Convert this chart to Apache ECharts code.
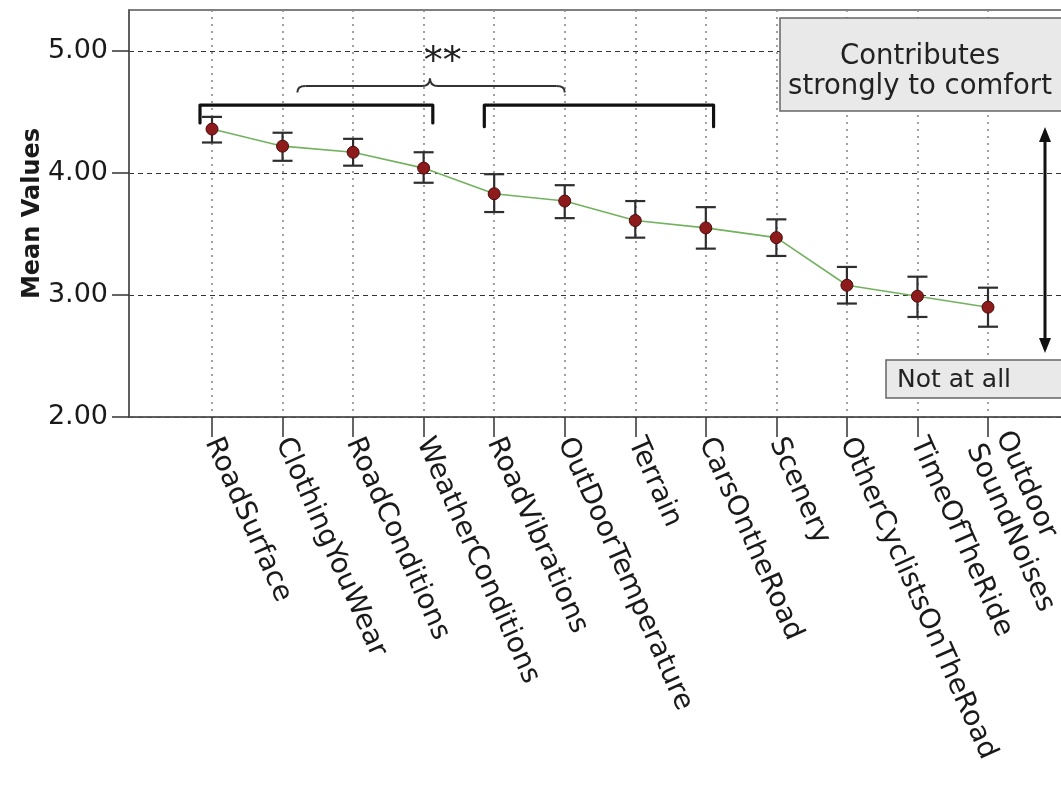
<!DOCTYPE html>
<html>
<head>
<meta charset="utf-8">
<script src="https://cdn.jsdelivr.net/npm/echarts@6/dist/echarts.min.js"></script>
<style>
  html, body { margin: 0; padding: 0; background: #fff; }
  #chart { width: 1061px; height: 785px; }
</style>
</head>
<body>
<div id="chart"></div>
<script>
// Comfort factors, ordered by mean rating
const categories = [
  'RoadSurface', 'ClothingYouWear', 'RoadConditions', 'WeatherConditions',
  'RoadVibrations', 'OutDoorTemperature', 'Terrain', 'CarsOntheRoad',
  'Scenery', 'OtherCyclistsOnTheRoad', 'TimeOfTheRide', 'Outdoor\nSoundNoises'
];
const means = [4.36, 4.22, 4.17, 4.04, 3.83, 3.77, 3.61, 3.55, 3.47, 3.08, 2.99, 2.90];
const lower = [4.25, 4.10, 4.06, 3.92, 3.68, 3.63, 3.47, 3.38, 3.32, 2.93, 2.82, 2.74];
const upper = [4.46, 4.33, 4.28, 4.17, 3.99, 3.90, 3.77, 3.72, 3.62, 3.23, 3.15, 3.06];
const yTicks = [2, 3, 4, 5];

// Groups compared by the significance brace
const groupA = [0, 3];
const groupB = [4, 7];

const FONT = 'DejaVu Sans';
const Y_MIN = 2, Y_MAX = 5.336;

const chart = echarts.init(document.getElementById('chart'), null, { renderer: 'canvas' });

chart.setOption({
  backgroundColor: '#ffffff',
  animation: false,
  grid: [
    // outer frame with horizontal reference lines
    { left: 129, right: -10, top: 10, bottom: 368, outerBoundsMode: 'none', containLabel: false,
      show: true, borderColor: '#555', borderWidth: 1.5, backgroundColor: 'transparent' },
    // plotting area aligned to the category positions
    { left: 212, right: 73, top: 10, bottom: 368, outerBoundsMode: 'none', containLabel: false }
  ],
  xAxis: [
    {
      gridIndex: 0, type: 'value', min: 0, max: 1,
      axisLine: { show: true, lineStyle: { color: '#555', width: 1.5 } },
      axisTick: { show: false }, axisLabel: { show: false }, splitLine: { show: false }
    },
    {
      gridIndex: 1, type: 'category', data: categories, boundaryGap: false,
      axisLine: { show: false },
      axisTick: { show: true, length: 20, lineStyle: { color: '#333', width: 1.5 } },
      axisLabel: {
        rotate: -66, margin: 22, interval: 0, hideOverlap: false,
        fontFamily: FONT, fontSize: 28, color: '#1a1a1a', lineHeight: 32
      },
      splitLine: { show: true, lineStyle: { color: '#8a8a8a', width: 1.6, type: [2, 5] } }
    }
  ],
  yAxis: [
    {
      gridIndex: 0, type: 'value', min: Y_MIN, max: Y_MAX,
      name: 'Mean Values', nameLocation: 'middle', nameGap: 84, nameMoveOverlap: false,
      nameTextStyle: { fontFamily: FONT, fontSize: 24, fontWeight: 'bold', color: '#1a1a1a' },
      axisLine: { show: true, lineStyle: { color: '#555', width: 1.5 } },
      axisTick: { show: true, length: 17, customValues: yTicks, lineStyle: { color: '#333', width: 1.5 } },
      axisLabel: {
        customValues: yTicks, margin: 21,
        fontFamily: FONT, fontSize: 27, color: '#1a1a1a',
        formatter: v => v.toFixed(2)
      },
      splitLine: { show: true, lineStyle: { color: '#333', width: 1.2, type: [5, 4] } }
    },
    {
      gridIndex: 1, type: 'value', min: Y_MIN, max: Y_MAX,
      axisLine: { show: false }, axisTick: { show: false }, axisLabel: { show: false }, splitLine: { show: false }
    }
  ],
  series: [
    {
      type: 'custom', name: 'CI', xAxisIndex: 1, yAxisIndex: 1, z: 2,
      data: categories.map((c, i) => [i, lower[i], upper[i]]),
      renderItem: function (params, api) {
        const lo = api.coord([api.value(0), api.value(1)]);
        const hi = api.coord([api.value(0), api.value(2)]);
        const cap = 10;
        const style = { stroke: '#2e2e2e', lineWidth: 2.2, fill: null };
        return {
          type: 'group',
          children: [
            { type: 'line', shape: { x1: lo[0], y1: lo[1], x2: hi[0], y2: hi[1] }, style },
            { type: 'line', shape: { x1: lo[0] - cap, y1: lo[1], x2: lo[0] + cap, y2: lo[1] }, style },
            { type: 'line', shape: { x1: hi[0] - cap, y1: hi[1], x2: hi[0] + cap, y2: hi[1] }, style }
          ]
        };
      }
    },
    {
      type: 'line', name: 'Mean', xAxisIndex: 1, yAxisIndex: 1, z: 3,
      data: means,
      symbol: 'circle', symbolSize: 12,
      lineStyle: { color: '#72b25e', width: 1.6 },
      itemStyle: { color: '#8e1b1b', borderColor: '#4a0c0c', borderWidth: 1 }
    }
  ]
});

// Annotations: brackets over the two groups, the significance brace and the scale hints
const toPx = (i, v) => chart.convertToPixel({ xAxisIndex: 1, yAxisIndex: 1 }, [i, v]);
const step = toPx(1, 4)[0] - toPx(0, 4)[0];
const xAt = f => toPx(0, 4)[0] + f * step;
const yAt = v => toPx(0, v)[1];

function bracket(x0, x1, yTop, yTip) {
  return {
    type: 'polyline',
    shape: { points: [[x0, yTip], [x0, yTop], [x1, yTop], [x1, yTip]] },
    style: { stroke: '#111', lineWidth: 3.2, fill: null, lineJoin: 'round', lineCap: 'round' },
    z: 10
  };
}

const bTop = yAt(4.557), bTip = yAt(4.41);
const braceY = yAt(4.713), braceEnd = yAt(4.66), braceTip = yAt(4.775);
const bx0 = xAt(groupA[0] - 0.17), bx1 = xAt(groupA[1] + 0.13);
const cx0 = xAt(groupB[0] - 0.14), cx1 = xAt(groupB[1] + 0.11);
const braceL = xAt(groupA[0] + 1.21), braceR = xAt(groupB[0] + 1.0), braceM = xAt(groupA[1] + 0.09);
const r = 8;
const braceStyle = { stroke: '#333', lineWidth: 2, fill: null };

function curve(x1, y1, cx, cy, x2, y2) {
  return { type: 'bezierCurve', z: 10, shape: { x1, y1, x2, y2, cpx1: cx, cpy1: cy }, style: braceStyle };
}
function seg(x1, y1, x2, y2) {
  return { type: 'line', z: 10, shape: { x1, y1, x2, y2 }, style: braceStyle };
}

chart.setOption({
  graphic: [
    bracket(bx0, bx1, bTop, bTip),
    bracket(cx0, cx1, bTop, yAt(4.38)),
    curve(braceL, braceEnd, braceL, braceY, braceL + r, braceY),
    seg(braceL + r, braceY, braceM - r, braceY),
    curve(braceM - r, braceY, braceM, braceY, braceM, braceTip),
    curve(braceM, braceTip, braceM, braceY, braceM + r, braceY),
    seg(braceM + r, braceY, braceR - r, braceY),
    curve(braceR - r, braceY, braceR, braceY, braceR, braceEnd),
    {
      type: 'text', z: 10,
      x: xAt(groupA[1] + 0.27), y: yAt(4.9),
      style: { text: '**', fontFamily: FONT, fontSize: 38, fill: '#222', align: 'center', verticalAlign: 'middle' }
    },
    {
      type: 'rect', z: 10,
      shape: { x: 780, y: 18, width: 300, height: 93 },
      style: { fill: '#e9e9e9', stroke: '#666', lineWidth: 1.5 }
    },
    {
      type: 'text', z: 11, x: 920, y: 72,
      style: {
        text: 'Contributes\nstrongly to comfort', fontFamily: FONT, fontSize: 27.5, lineHeight: 30,
        fill: '#222', align: 'center', verticalAlign: 'middle'
      }
    },
    {
      type: 'rect', z: 10,
      shape: { x: 886, y: 360, width: 200, height: 38 },
      style: { fill: '#e9e9e9', stroke: '#666', lineWidth: 1.5 }
    },
    {
      type: 'text', z: 11, x: 897, y: 380,
      style: { text: 'Not at all', fontFamily: FONT, fontSize: 25, fill: '#222', align: 'left', verticalAlign: 'middle' }
    },
    {
      type: 'line', z: 10,
      shape: { x1: 1045, y1: 138, x2: 1045, y2: 342 },
      style: { stroke: '#111', lineWidth: 3 }
    },
    {
      type: 'polygon', z: 10,
      shape: { points: [[1045, 127], [1039, 142], [1051, 142]] },
      style: { fill: '#111' }
    },
    {
      type: 'polygon', z: 10,
      shape: { points: [[1045, 353], [1039, 338], [1051, 338]] },
      style: { fill: '#111' }
    }
  ]
});
</script>
</body>
</html>
